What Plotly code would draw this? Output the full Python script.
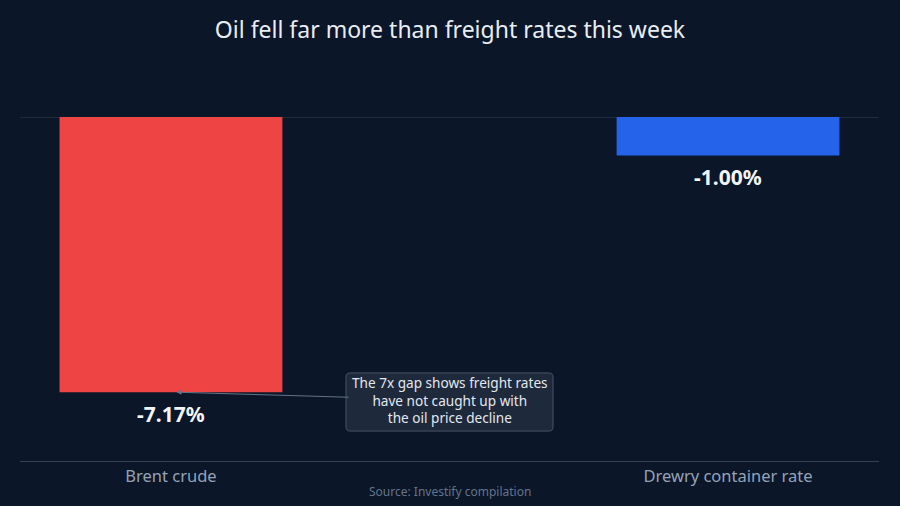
import plotly.graph_objects as go

# values
categories = ["Brent crude", "Drewry container rate"]
changes = [-7.17, -1.00]
bar_colors = ["#ef4444", "#2563eb"]
labels = ["-7.17%", "-1.00%"]

bg = "#0b1628"

fig = go.Figure()
fig.add_trace(go.Bar(
    x=categories,
    y=changes,
    width=0.4,
    marker=dict(color=bar_colors, line=dict(width=0)),
    hoverinfo="skip",
))

# value labels just below each bar end
for cat, val, lab in zip(categories, changes, labels):
    fig.add_annotation(
        x=cat, y=val, xref="x", yref="y", text="<b>%s</b>" % lab,
        showarrow=False, yanchor="middle", yshift=-22,
        font=dict(size=21, color="#f1f5f9", family="Noto Sans"),
    )

# rounded box behind the callout (paper coords of the plot area)
x0, x1, y0, y1 = 0.3795, 0.6205, 0.087, 0.256
rx, ry = 0.005, 0.012
box_path = (
    f"M {x0+rx},{y0} L {x1-rx},{y0} Q {x1},{y0} {x1},{y0+ry} "
    f"L {x1},{y1-ry} Q {x1},{y1} {x1-rx},{y1} "
    f"L {x0+rx},{y1} Q {x0},{y1} {x0},{y1-ry} "
    f"L {x0},{y0+ry} Q {x0},{y0} {x0+rx},{y0} Z"
)
fig.add_shape(type="path", path=box_path, xref="paper", yref="paper",
              fillcolor="#1e293b", line=dict(color="#475569", width=1), layer="above")

# callout text with arrow to the Brent bar
fig.add_annotation(
    x=0.01, y=changes[0], xref="x", yref="y",
    text="The 7x gap shows freight rates<br>have not caught up with<br>the oil price decline",
    showarrow=True, arrowhead=2, arrowsize=1, arrowwidth=1, arrowcolor="#64748b",
    ax=273, ay=8,
    font=dict(size=13.6, color="#e2e8f0", family="Noto Sans"),
    align="center",
    bgcolor="rgba(0,0,0,0)", borderwidth=0, borderpad=3,
)

fig.add_annotation(
    x=0.5, y=-0.09, xref="paper", yref="paper",
    text="Source: Investify compilation", showarrow=False,
    font=dict(size=12, color="#64748b", family="Noto Sans"),
    xanchor="center", yanchor="middle",
)

fig.update_layout(
    width=900, height=506,
    paper_bgcolor=bg, plot_bgcolor=bg,
    margin=dict(l=20, r=21, t=117, b=45),
    title=dict(text="Oil fell far more than freight rates this week",
               x=0.5, xanchor="center", y=0.94, yanchor="middle",
               font=dict(size=23, color="#e8edf3", family="Noto Sans")),
    font=dict(family="Noto Sans"),
    showlegend=False,
)
fig.update_xaxes(
    range=[-0.271, 1.271],
    showgrid=False, showline=True, linecolor="#334155", linewidth=1,
    ticks="",
    tickfont=dict(size=16.5, color="#94a3b8"),
)
fig.update_yaxes(
    range=[-8.9625, 0],
    showgrid=False, showticklabels=False,
    zeroline=False, showline=False,
)
# zero reference line across the top of the plot
fig.add_hline(y=0, line=dict(color="#334155", width=1), layer="below")

fig.write_html("out.html", config={"displayModeBar": False},
               post_script="document.body.style.margin='0';document.body.style.background='%s';" % bg)
